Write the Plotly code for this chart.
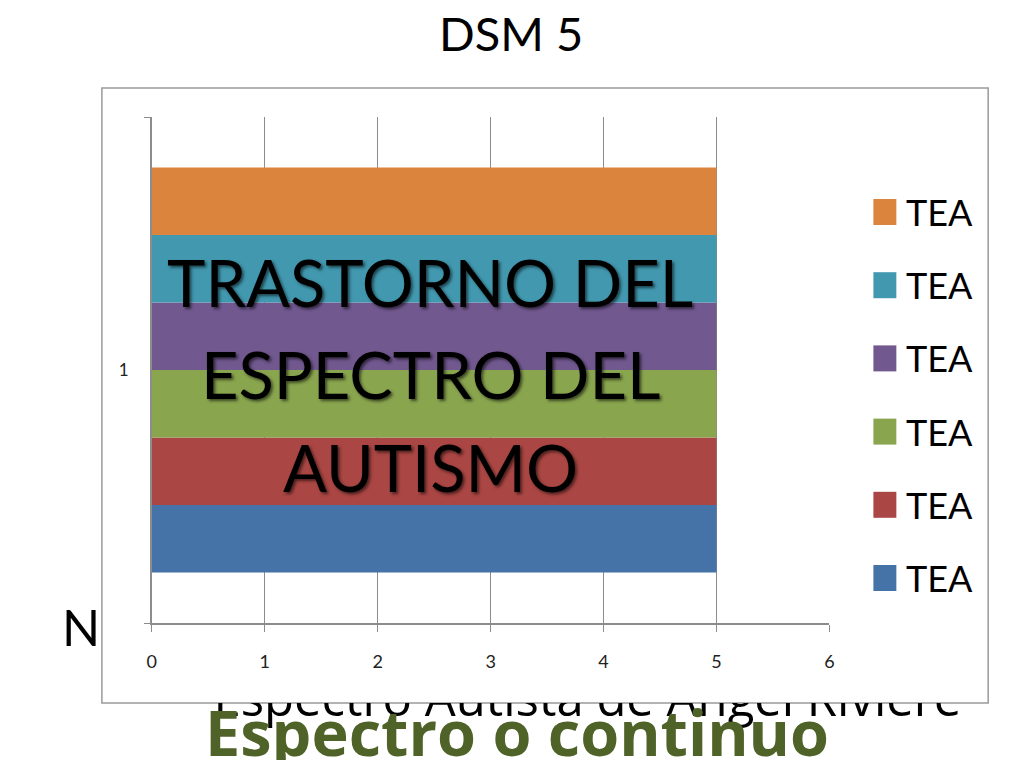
import plotly.graph_objects as go

# chart data
categories = ["1"]
series_names = ["TEA", "TEA", "TEA", "TEA", "TEA", "TEA"]
series_values = [5, 5, 5, 5, 5, 5]
series_colors = ["#4572A7", "#AA4643", "#89A54E", "#71588F", "#4198AF", "#DB843D"]
x_ticks = [0, 1, 2, 3, 4, 5, 6]
overlay_lines = ["TRASTORNO DEL", "ESPECTRO DEL", "AUTISMO"]

# page body has an 8px margin all round, so the figure is shrunk to fit
OFF = 8
W, H = 1024 - 2 * OFF, 768 - 2 * OFF
FONT = "Lato"
# small horizontal correction seen in the captured page
SX, DX = 0.992, 4


def px_x(p):
    return ((p - DX) / SX - OFF) / W


def px_y(p):
    return 1 - (p - OFF) / H


fig = go.Figure()

# one horizontal bar per series, grouped in the single category
for name, val, col in zip(series_names, series_values, series_colors):
    fig.add_trace(go.Bar(
        y=categories, x=[val], name=name, orientation="h",
        marker=dict(color=col, line=dict(width=0)),
        showlegend=False, hoverinfo="x+name",
    ))

# slide text hidden behind the chart box (only its bottom edge shows)
fig.add_trace(go.Scatter(
    x=[0.5], y=[0.55], mode="text", text=["Espectro Autista de Ángel Riviere"],
    textposition="top center", textfont=dict(family="Open Sans", size=49, color="black"),
    xaxis="x2", yaxis="y2", showlegend=False, hoverinfo="skip", cliponaxis=True,
))

fig.update_layout(
    width=W, height=H,
    margin=dict(l=0, r=0, t=0, b=0),
    paper_bgcolor="white", plot_bgcolor="rgba(0,0,0,0)",
    barmode="group", bargap=0.2, bargroupgap=0,
    showlegend=False,
    font=dict(family=FONT, color="black"),
    xaxis=dict(
        domain=[px_x(151), px_x(830)], range=[0, 6], tickvals=x_ticks,
        showgrid=True, gridcolor="#8C8C8C", gridwidth=1, zeroline=False,
        showline=True, linecolor="#8C8C8C", linewidth=1.5,
        ticks="outside", ticklen=7, tickcolor="#8C8C8C",
        ticklabelstandoff=15, tickfont=dict(size=18, color="#222"),
    ),
    yaxis=dict(
        domain=[px_y(623), px_y(117)], type="category",
        showgrid=False, zeroline=False,
        showline=True, linecolor="#8C8C8C", linewidth=1.5,
        ticks="outside", tickson="boundaries", ticklen=6, tickcolor="#8C8C8C",
        tickfont=dict(size=17, color="#222"), ticklabelstandoff=18,
    ),
    xaxis2=dict(domain=[px_x(180), px_x(995)], range=[0, 1], visible=False),
    yaxis2=dict(domain=[0, px_y(703)], range=[0, 1], visible=False),
)

# chart box
fig.add_shape(type="rect", xref="paper", yref="paper",
              x0=px_x(101), x1=px_x(989), y0=px_y(703), y1=px_y(88),
              line=dict(color="#9A9A9A", width=1.5), fillcolor="white", layer="below")

# legend drawn slide-style (large swatches), top entry = last series
legend_top, legend_step = 212, 73.2
for i, (name, col) in enumerate(zip(series_names[::-1], series_colors[::-1])):
    cy = legend_top + i * legend_step
    fig.add_shape(type="rect", xref="paper", yref="paper",
                  x0=px_x(874), x1=px_x(897), y0=px_y(cy + 13), y1=px_y(cy - 13),
                  line=dict(width=0), fillcolor=col)
    fig.add_annotation(x=px_x(905), y=px_y(cy), xref="paper", yref="paper",
                       xanchor="left", yanchor="middle", showarrow=False,
                       text=name, font=dict(family=FONT, size=36, color="black"))

# big overlay title on the bars, one line at a time for slide-like spacing
for i, line in enumerate(overlay_lines):
    fig.add_annotation(x=px_x(430), y=px_y(282 + i * 92.5), xref="paper", yref="paper",
                       xanchor="center", yanchor="middle", showarrow=False, text=line,
                       font=dict(family=FONT, size=65, color="black",
                                 shadow="2px 2px 3px rgba(0,0,0,0.55)"))

annotations = [
    dict(text="DSM 5", x=px_x(511), y=px_y(33), font=dict(size=47, color="black")),
    dict(text="<b>Espectro o continuo</b>", x=px_x(517), y=px_y(731),
         font=dict(family="Open Sans", size=63, color="#4F6228")),
    dict(text="N", x=px_x(80), y=px_y(627), font=dict(size=50, color="black")),
]
for a in annotations:
    fig.add_annotation(xref="paper", yref="paper", xanchor="center", yanchor="middle",
                       showarrow=False, **{**a, "font": {"family": FONT, **a["font"]}})

fig.write_html("out.html")
